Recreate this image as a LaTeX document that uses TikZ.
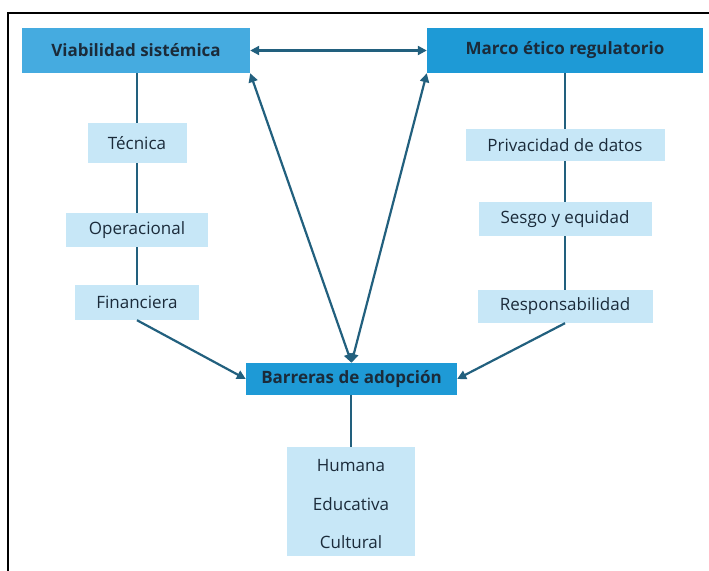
\documentclass[tikz,border=0pt]{standalone}
\usepackage{fontspec}
\setmainfont{Open Sans}
\usetikzlibrary{arrows.meta}
\definecolor{darkbox}{HTML}{1E9AD6}
\definecolor{midbox}{HTML}{45ABE0}
\definecolor{lightbox}{HTML}{C7E7F7}
\definecolor{linec}{HTML}{22607E}
\definecolor{txt}{HTML}{1B2B3A}
\begin{document}
\begin{tikzpicture}[x=1pt,y=-1pt,
  headbox/.style={fill=#1,draw=none,text=txt,font=\fontsize{17}{19}\selectfont\bfseries,inner sep=0pt},
  subbox/.style={fill=lightbox,draw=none,text=txt,font=\fontsize{17}{19}\selectfont,inner sep=0pt},
  conn/.style={draw=linec,line width=2.2pt},
  arr/.style={conn,-{Triangle[length=9pt,width=9pt]}},
  darr/.style={conn,{Triangle[length=9pt,width=9pt]}-{Triangle[length=9pt,width=9pt]}}]
\useasboundingbox (0,0) rectangle (709,570);
\fill[white] (0,0) rectangle (709,570);
\draw[black,line width=2.4pt] (8,572) -- (8,13) -- (711,13);
% head boxes
\node[headbox=midbox,minimum width=228pt,minimum height=45pt] (vs) at (136,50.5) {Viabilidad sistémica};
\node[headbox=darkbox,minimum width=276pt,minimum height=45pt] (me) at (565,50.5) {Marco ético regulatorio};
\node[headbox=darkbox,minimum width=211pt,minimum height=32pt] (ba) at (351.5,379) {Barreras de adopción};
% left sub boxes
\node[subbox,minimum width=99pt,minimum height=40pt] (te) at (137,143) {Técnica};
\node[subbox,minimum width=142pt,minimum height=34pt] (op) at (137,230) {Operacional};
\node[subbox,minimum width=124pt,minimum height=35pt] (fi) at (137,302.5) {Financiera};
% right sub boxes
\node[subbox,minimum width=199pt,minimum height=32pt] (pr) at (565,145) {Privacidad de datos};
\node[subbox,minimum width=173pt,minimum height=34pt] (se) at (565,219) {Sesgo y equidad};
\node[subbox,minimum width=175pt,minimum height=33pt] (re) at (565,306.5) {Responsabilidad};
% bottom box
\node[subbox,minimum width=128pt,minimum height=109pt] (hu) at (351,501.5) {};
\node[text=txt,font=\fontsize{17}{19}\selectfont] (h1) at (351,466) {Humana};
\node[text=txt,font=\fontsize{17}{19}\selectfont] (h2) at (351,504) {Educativa};
\node[text=txt,font=\fontsize{17}{19}\selectfont] (h3) at (351,542) {Cultural};
% lines
\draw[conn] (vs.south -| te.north) -- (te.north);
\draw[conn] (te.south) -- (op.north);
\draw[conn] (op.south) -- (fi.north);
\draw[conn] (me.south -| pr.north) -- (pr.north);
\draw[conn] (pr.south) -- (se.north);
\draw[conn] (se.south) -- (re.north);
\draw[conn] (ba.south -| hu.north) -- (hu.north);
% arrows
\draw[arr] (fi.south) -- (ba.west);
\draw[arr] (re.south) -- (ba.east);
\draw[darr] (vs.east) -- (me.west);
\draw[darr] (vs.south east) -- (ba.north);
\draw[darr] (me.south west) -- (ba.north);
\end{tikzpicture}
\end{document}
